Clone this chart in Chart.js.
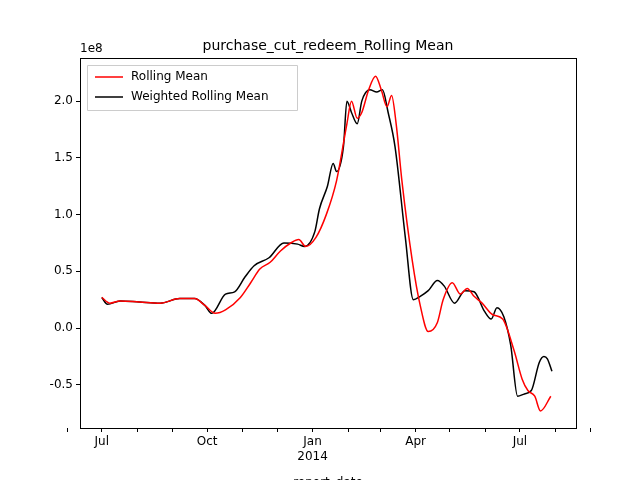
<!DOCTYPE html>
<html>
<head>
<meta charset="utf-8">
<script src="https://cdn.jsdelivr.net/npm/chart.js@4.4.1/dist/chart.umd.min.js"></script>
<style>
  html, body { margin: 0; padding: 0; background: #fff; }
  #wrap { width: 640px; height: 480px; }
</style>
</head>
<body>
<div id="wrap"><canvas id="c" width="640" height="480"></canvas></div>
<script>
// x = days since 2013-07-01, y = value in units of 1e8
const rollDays = [0, 7, 16, 33, 51, 68, 81, 90, 99, 108, 121, 130, 138, 147, 156, 165, 172, 178, 187, 196, 205, 214, 218, 223, 227, 233, 239, 244, 249, 253, 257, 262, 271, 278, 285, 293, 298, 306, 313, 319, 325, 332, 341, 350, 360, 367, 372, 378, 383, 392];
const rollMean = [0.27, 0.22, 0.24, 0.23, 0.22, 0.26, 0.26, 0.20, 0.13, 0.16, 0.27, 0.40, 0.52, 0.58, 0.68, 0.75, 0.78, 0.72, 0.80, 1.00, 1.30, 1.80, 2.00, 1.85, 1.90, 2.10, 2.22, 2.10, 1.95, 2.05, 1.80, 1.30, 0.60, 0.20, -0.03, 0.05, 0.25, 0.40, 0.30, 0.35, 0.28, 0.22, 0.12, 0.08, -0.20, -0.45, -0.55, -0.60, -0.73, -0.60, -0.45, -0.30];
const wDays = [0, 5, 16, 33, 51, 68, 81, 90, 96, 108, 116, 125, 133, 146, 159, 171, 177, 186, 190, 197, 202, 205, 211, 214, 218, 223, 227, 234, 240, 245, 250, 256, 265, 272, 278, 285, 293, 299, 308, 317, 325, 334, 340, 345, 351, 357, 363, 369, 375, 382, 386, 389, 393];
const wMean = [0.27, 0.21, 0.24, 0.23, 0.22, 0.26, 0.26, 0.20, 0.13, 0.30, 0.32, 0.45, 0.55, 0.62, 0.75, 0.74, 0.72, 0.85, 1.05, 1.25, 1.45, 1.38, 1.60, 2.00, 1.90, 1.80, 2.00, 2.10, 2.08, 2.10, 1.90, 1.60, 0.80, 0.25, 0.28, 0.33, 0.42, 0.37, 0.22, 0.33, 0.32, 0.15, 0.08, 0.18, 0.10, -0.15, -0.60, -0.58, -0.55, -0.30, -0.25, -0.27, -0.38];
// rolling mean has two extra readings near the end; trim to matching lengths
rollDays.length = Math.min(rollDays.length, rollMean.length);
const monthTicks = [-30, 0, 31, 62, 92, 123, 153, 184, 215, 243, 274, 304, 335, 365, 396, 427];
const monthLabels = { 0: 'Jul', 92: 'Oct', 184: ['Jan', '2014'], 274: 'Apr', 365: 'Jul' };
const yTicks = [-0.5, 0, 0.5, 1.0, 1.5, 2.0];

const FONT = 'DejaVu Sans';
Chart.defaults.font.family = FONT;
Chart.defaults.color = '#000';

const toPts = (xs, ys) => ys.map((y, i) => ({ x: xs[i], y }));

const decor = {
  id: 'decor',
  afterDraw(chart) {
    const { ctx, chartArea: a } = chart;
    ctx.save();
    ctx.strokeStyle = '#000';
    ctx.lineWidth = 1;
    ctx.strokeRect(a.left + 0.5, a.top + 0.5, a.width, a.height);
    ctx.fillStyle = '#000';
    ctx.font = '14px ' + FONT;
    ctx.textAlign = 'center';
    ctx.textBaseline = 'alphabetic';
    ctx.fillText('purchase_cut_redeem_Rolling Mean', (a.left + a.right) / 2, 50);
    ctx.font = '12px ' + FONT;
    ctx.fillText('report_date', (a.left + a.right) / 2, 486);
    ctx.textAlign = 'left';
    ctx.fillText('1e8', a.left, 52);
    // legend
    const lx = a.left + 7, ly = a.top + 7;
    ctx.fillStyle = 'rgba(255,255,255,0.8)';
    ctx.strokeStyle = '#ccc';
    ctx.beginPath();
    ctx.rect(lx + 0.5, ly + 0.5, 210, 45);
    ctx.fill(); ctx.stroke();
    const items = [['Rolling Mean', 'red'], ['Weighted Rolling Mean', 'black']];
    items.forEach(([t, c], i) => {
      const yy = ly + 12 + i * 20;
      ctx.strokeStyle = c; ctx.lineWidth = 1.5;
      ctx.beginPath(); ctx.moveTo(lx + 8, yy); ctx.lineTo(lx + 36, yy); ctx.stroke();
      ctx.fillStyle = '#000'; ctx.textBaseline = 'middle';
      ctx.fillText(t, lx + 44, yy);
    });
    ctx.restore();
  }
};

new Chart(document.getElementById('c'), {
  type: 'line',
  data: {
    datasets: [
      { label: 'Rolling Mean', data: toPts(rollDays, rollMean), borderColor: 'red', borderWidth: 1.5, pointRadius: 0, tension: 0.4, cubicInterpolationMode: 'monotone' },
      { label: 'Weighted Rolling Mean', data: toPts(wDays, wMean), borderColor: 'black', borderWidth: 1.5, pointRadius: 0, tension: 0.4, cubicInterpolationMode: 'monotone' },
    ],
  },
  options: {
    responsive: false,
    animation: false,
    layout: { padding: { top: 58, right: 64, left: 0, bottom: 0 } },
    plugins: { legend: { display: false }, tooltip: { enabled: false } },
    scales: {
      x: {
        type: 'linear', min: -19, max: 414,
        afterBuildTicks: (s) => { s.ticks = monthTicks.map(v => ({ value: v })); },
        afterFit: (s) => { s.height = 52; },
        ticks: { autoSkip: false, maxRotation: 0, font: { size: 12 }, callback: (v) => monthLabels[v] || '' },
        grid: { drawOnChartArea: false, tickLength: 4, color: '#000' },
        border: { display: false },
      },
      y: {
        min: -0.88, max: 2.38,
        afterBuildTicks: (s) => { s.ticks = yTicks.map(v => ({ value: v })); },
        afterFit: (s) => { s.width = 80; },
        ticks: { font: { size: 12 }, callback: (v) => v.toFixed(1) },
        grid: { drawOnChartArea: false, tickLength: 4, color: '#000' },
        border: { display: false },
      },
    },
  },
  plugins: [decor],
});
</script>
</body>
</html>
